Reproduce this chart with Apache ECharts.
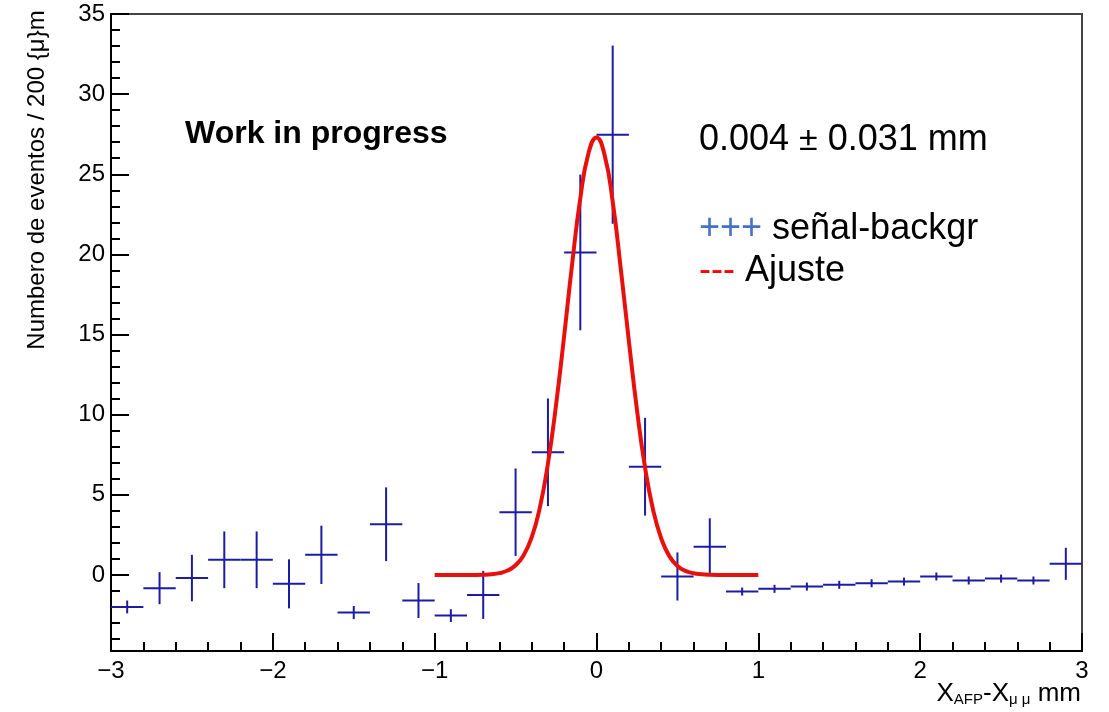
<!DOCTYPE html>
<html>
<head>
<meta charset="utf-8">
<script src="https://cdn.jsdelivr.net/npm/echarts@6/dist/echarts.min.js"></script>
<style>
  html, body { margin: 0; padding: 0; background: #fff; }
  #main { width: 1109px; height: 712px; }
</style>
</head>
<body>
<div id="main"></div>
<script>
// histogram bins (200 um wide), centre in mm
const binWidth = 0.2;
const binCenters = [-2.9, -2.7, -2.5, -2.3, -2.1, -1.9, -1.7, -1.5, -1.3, -1.1,
                    -0.9, -0.7, -0.5, -0.3, -0.1, 0.1, 0.3, 0.5, 0.7, 0.9,
                    1.1, 1.3, 1.5, 1.7, 1.9, 2.1, 2.3, 2.5, 2.7, 2.9];
// señal - backgr
const counts = [-2.0, -0.83, -0.2, 0.94, 0.94, -0.56, 1.25, -2.35, 3.16, -1.6,
                -2.54, -1.25, 3.91, 7.65, 20.12, 27.47, 6.75, -0.1, 1.76, -1.04,
                -0.87, -0.73, -0.62, -0.52, -0.42, -0.1, -0.35, -0.23, -0.35, 0.69];
const errors = [0.4, 1.0, 1.45, 1.77, 1.77, 1.53, 1.82, 0.41, 2.3, 1.09,
                0.4, 1.5, 2.73, 3.36, 4.86, 5.56, 3.05, 1.5, 1.77, 0.25,
                0.25, 0.25, 0.25, 0.25, 0.25, 0.25, 0.25, 0.25, 0.25, 1.0];

// ajuste
const fitX = [-1.0, -0.95, -0.9, -0.85, -0.8, -0.75, -0.7, -0.65, -0.6, -0.55,
              -0.5, -0.45, -0.4, -0.35, -0.3, -0.25, -0.2, -0.15, -0.1, -0.05,
              0.0, 0.05, 0.1, 0.15, 0.2, 0.25, 0.3, 0.35, 0.4, 0.45,
              0.5, 0.55, 0.6, 0.65, 0.7, 0.75, 0.8, 0.85, 0.9, 0.95, 1.0];
const fitY = [0, 0, 0, 0, 0, 0, 0.01, 0.04, 0.11, 0.27,
              0.6, 1.23, 2.35, 4.2, 6.95, 10.6, 14.9, 19.45, 23.5, 26.3,
              27.3, 26.2, 23.3, 19.1, 14.6, 10.3, 6.7, 4.05, 2.27, 1.17,
              0.56, 0.25, 0.1, 0.04, 0.01, 0, 0, 0, 0, 0, 0];

const yMajorTicks = [0, 5, 10, 15, 20, 25, 30, 35];
const yMinorTicks = [];
for (let v = -4; v <= 35; v++) yMinorTicks.push(v);

const font = "'Liberation Sans', Arial, Helvetica, sans-serif";
const dataColor = '#1c1ca2';

const chart = echarts.init(document.getElementById('main'));

chart.setOption({
  backgroundColor: '#fff',
  animation: false,
  grid: {
    left: 111, right: 27, top: 14, bottom: 61,
    show: true, borderColor: '#444', borderWidth: 2, backgroundColor: 'transparent'
  },
  xAxis: {
    type: 'value', min: -3, max: 3, interval: 1,
    axisLine: { onZero: false, lineStyle: { color: '#000', width: 2 } },
    axisTick: { inside: true, length: 18, lineStyle: { color: '#000', width: 2 } },
    minorTick: { show: true, splitNumber: 5, length: 9, lineStyle: { color: '#000', width: 2 } },
    splitLine: { show: false },
    axisLabel: {
      fontFamily: font, fontSize: 24, color: '#000', margin: 8,
      showMinLabel: true, showMaxLabel: true,
      formatter: v => String(v).replace('-', '\u2212')
    }
  },
  yAxis: [{
    type: 'value', min: -4.75, max: 35,
    axisLine: { show: true, onZero: false, lineStyle: { color: '#000', width: 2 } },
    axisTick: { inside: true, length: 18, customValues: yMajorTicks, lineStyle: { color: '#000', width: 2 } },
    splitLine: { show: false },
    axisLabel: {
      fontFamily: font, fontSize: 24, color: '#000', margin: 6,
      customValues: yMajorTicks
    }
  }, {
    type: 'value', min: -4.75, max: 35, position: 'left',
    axisLine: { show: false, onZero: false },
    axisTick: { inside: true, length: 9, customValues: yMinorTicks, lineStyle: { color: '#000', width: 2 } },
    splitLine: { show: false },
    axisLabel: { show: false }
  }],
  series: [{
    name: 'Ajuste',
    type: 'line',
    data: fitX.map((x, i) => [x, fitY[i]]),
    showSymbol: false,
    smooth: 0.5,
    lineStyle: { color: '#e8100c', width: 4 },
    z: 3
  }, {
    name: 'señal-backgr',
    type: 'custom',
    data: binCenters.map((c, i) => [c, counts[i], errors[i]]),
    renderItem: function (params, api) {
      const x = api.value(0), y = api.value(1), e = api.value(2);
      const l = api.coord([x - binWidth / 2, y]);
      const r = api.coord([x + binWidth / 2, y]);
      const t = api.coord([x, y + e]);
      const b = api.coord([x, y - e]);
      const st = { stroke: dataColor, lineWidth: 2 };
      return {
        type: 'group',
        children: [
          { type: 'line', shape: { x1: l[0], y1: l[1], x2: r[0], y2: r[1] }, style: st },
          { type: 'line', shape: { x1: t[0], y1: t[1], x2: b[0], y2: b[1] }, style: st }
        ]
      };
    },
    z: 2
  }],
  graphic: [{
    type: 'text', x: 37, y: 180, rotation: Math.PI / 2,
    style: {
      text: 'Numbero de eventos / 200 {\u03bc}m',
      fontFamily: font, fontSize: 24, fill: '#000', align: 'center', verticalAlign: 'middle'
    }
  }, {
    type: 'text', right: 28, top: 681,
    style: {
      text: '{m|X}{s|AFP}{m|-X}{s|\u03bc \u03bc}{m| mm}',
      rich: {
        m: { fontFamily: font, fontSize: 26, fill: '#000', verticalAlign: 'bottom', lineHeight: 28 },
        s: { fontFamily: font, fontSize: 15, fill: '#000', verticalAlign: 'bottom', lineHeight: 21 }
      }
    }
  }, {
    type: 'text', x: 185, y: 134,
    style: {
      text: 'Work in progress', fontFamily: font, fontSize: 32, fontWeight: 'bold',
      fill: '#000', verticalAlign: 'middle'
    }
  }, {
    type: 'text', x: 699, y: 140,
    style: {
      text: '{t|0.004 }{pm|\u00b1}{t| 0.031 mm}',
      verticalAlign: 'middle',
      rich: {
        t: { fontFamily: font, fontSize: 36, fill: '#000' },
        pm: { fontFamily: font, fontSize: 34, fill: '#000', verticalAlign: 'middle', padding: [2, 0, 0, 0] }
      }
    }
  }, {
    type: 'text', x: 699, y: 229,
    style: {
      text: '{b|+++ }{t|señal-backgr}',
      verticalAlign: 'middle',
      rich: {
        b: { fontFamily: font, fontSize: 36, fill: '#4472c4' },
        t: { fontFamily: font, fontSize: 36, fill: '#000' }
      }
    }
  }, {
    type: 'text', x: 699, y: 271,
    style: {
      text: '{r|--- }{t|Ajuste}',
      verticalAlign: 'middle',
      rich: {
        r: { fontFamily: font, fontSize: 36, fill: '#ff0000' },
        t: { fontFamily: font, fontSize: 36, fill: '#000' }
      }
    }
  }]
});
</script>
</body>
</html>
